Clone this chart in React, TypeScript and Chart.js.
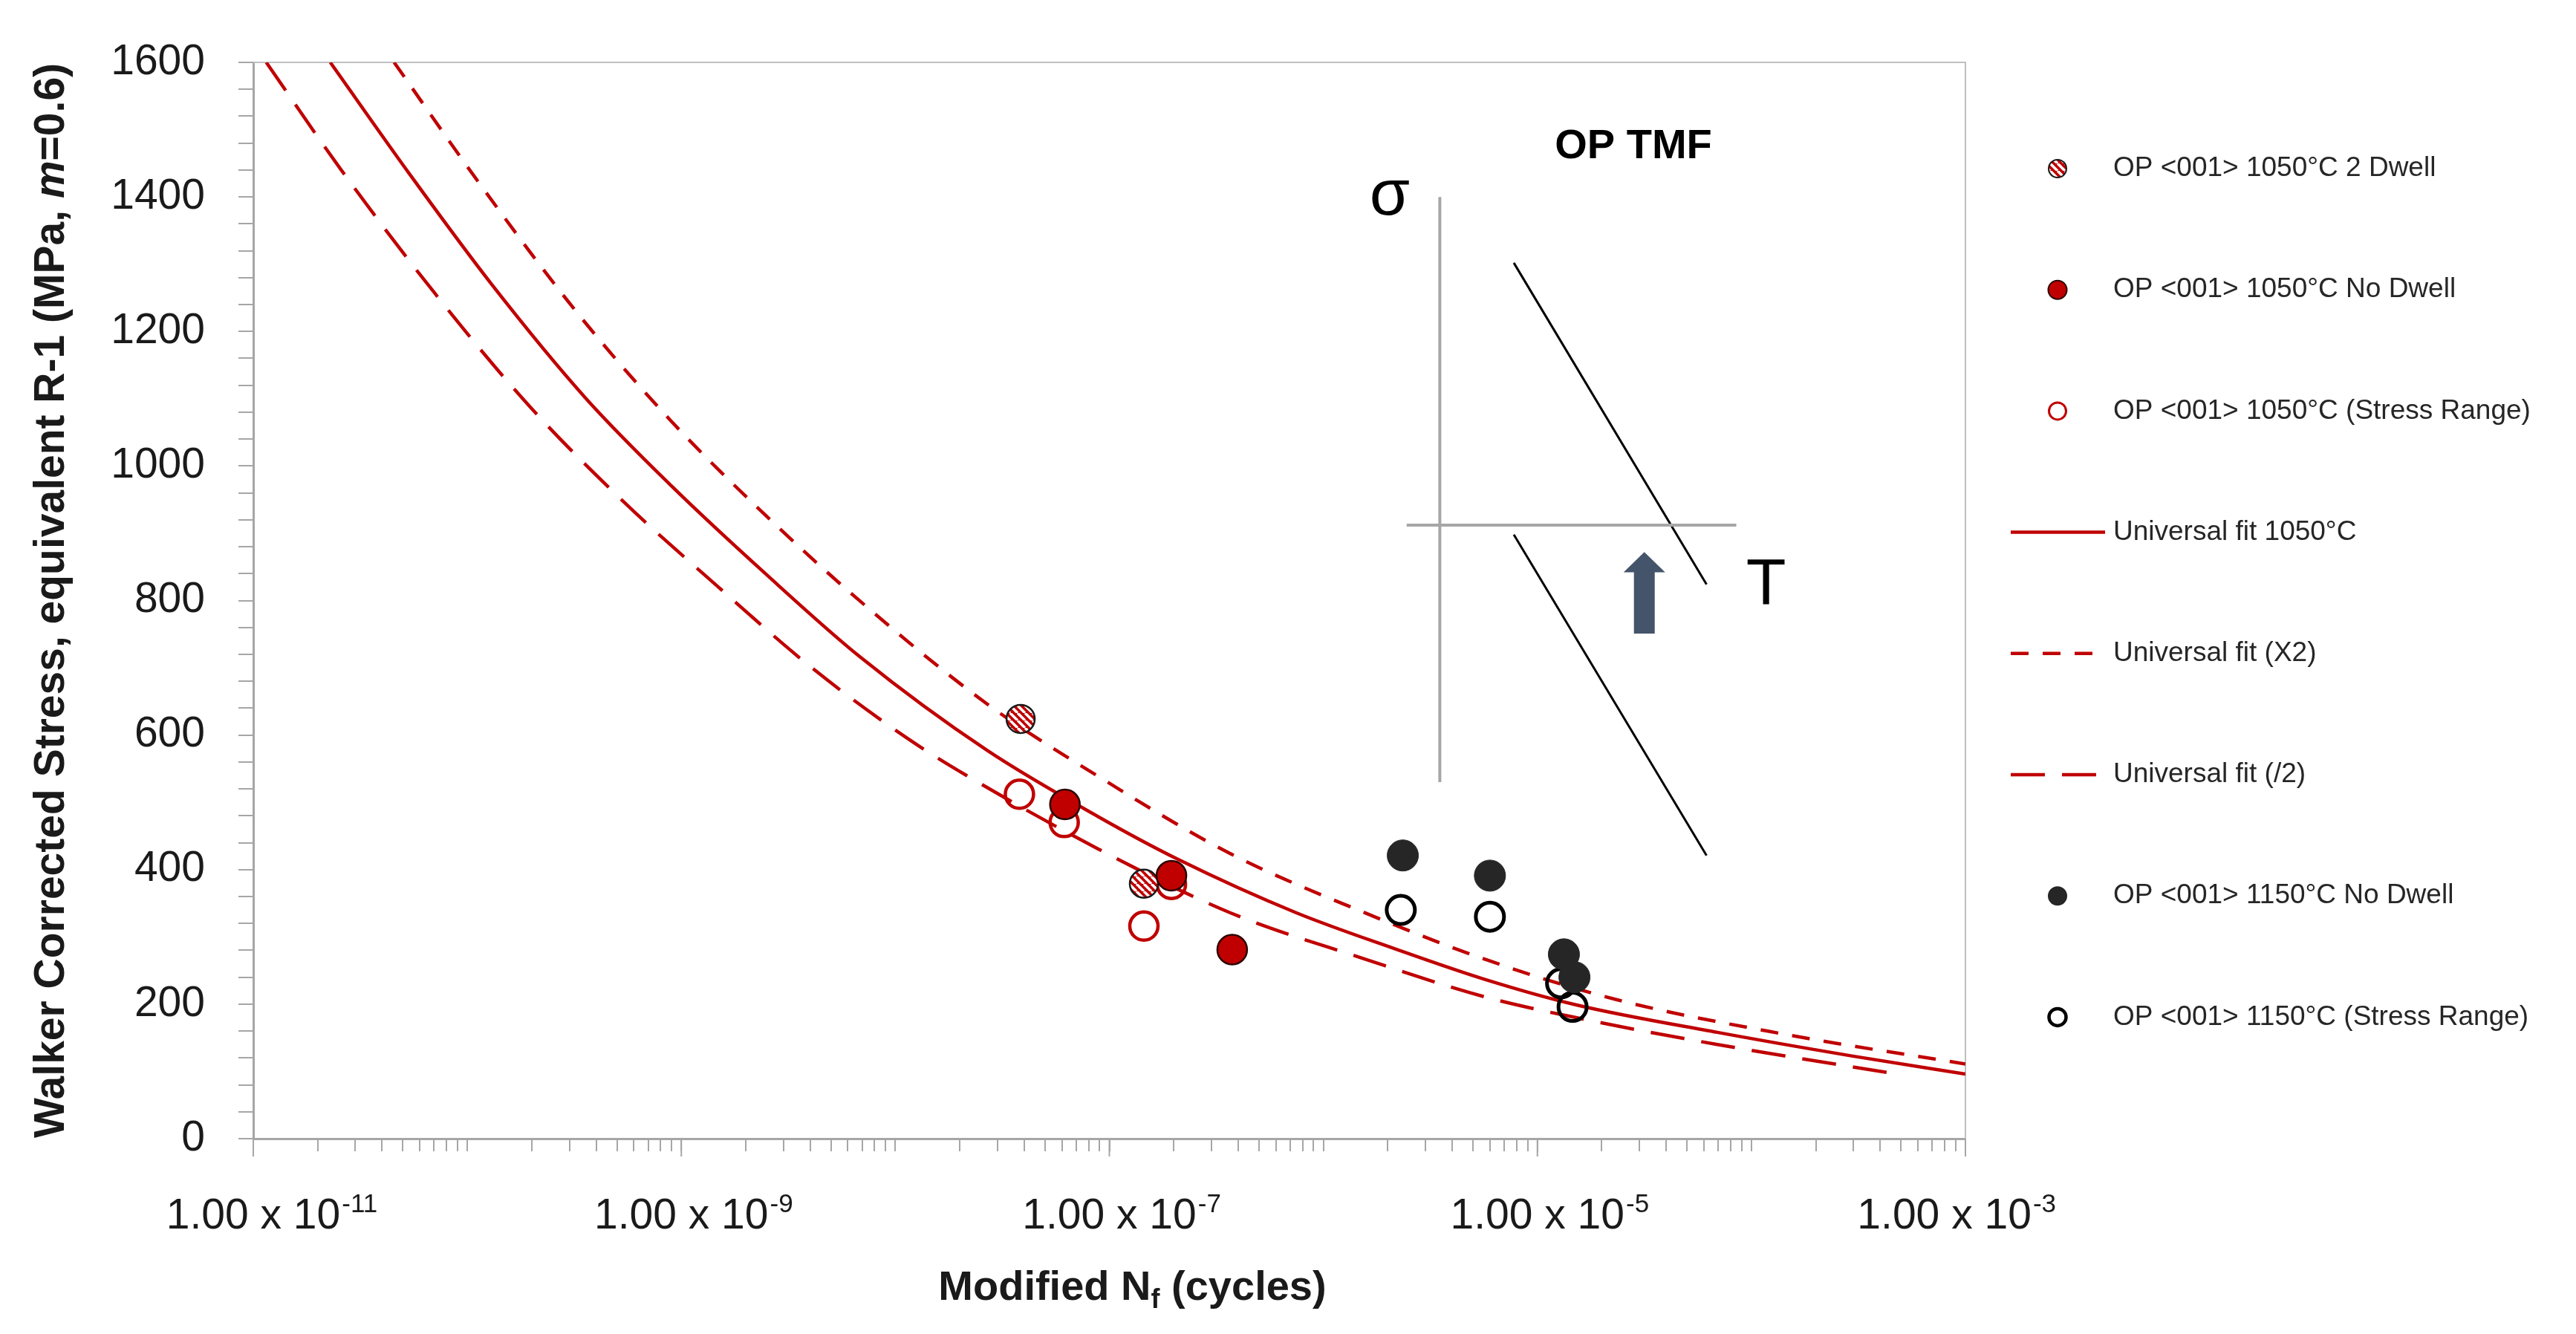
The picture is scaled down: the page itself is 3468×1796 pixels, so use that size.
import { Chart, ScatterController, LineElement, PointElement, LinearScale, LogarithmicScale, Filler } from "chart.js";
import { useEffect, useRef } from "react";

// Filler is what refreshes the bezier control points of curved lines
Chart.register(ScatterController, LineElement, PointElement, LinearScale, LogarithmicScale, Filler);

const W = 3468;
const H = 1796;
const FONT = "'Liberation Sans', Arial, sans-serif";
const RED = "#c00000";
const DARK = "#262626";
const AXIS_GRAY = "#a6a6a6";
const TEXT = "#1a1a1a";

// test points: [modified Nf, Walker corrected stress]
const dwell1050: [number, number][] = [[3.85e-8, 624], [1.45e-7, 379]];
const noDwell1050: [number, number][] = [[6.2e-8, 497], [1.95e-7, 391], [3.75e-7, 281]];
const range1050: [number, number][] = [[3.8e-8, 512], [6.15e-8, 470], [1.45e-7, 316], [1.95e-7, 378]];
const noDwell1150: [number, number][] = [[2.35e-6, 421], [6.0e-6, 391], [1.33e-5, 274], [1.49e-5, 240]];
const range1150: [number, number][] = [[2.3e-6, 340], [6.0e-6, 330], [1.29e-5, 231], [1.46e-5, 196]];

// fit curves
const fit1050: [number, number][] = [
  [2.29e-11, 1600], [5.43e-11, 1432], [1.3e-10, 1270], [3.57e-10, 1101], [8.95e-10, 971],
  [2.49e-9, 839], [6.85e-9, 716], [2.69e-8, 577], [8.83e-8, 479], [2.07e-7, 416],
  [7.45e-7, 336], [2.17e-6, 282], [5.65e-6, 237], [1.51e-5, 199], [6.93e-5, 158],
  [2.94e-4, 123], [1e-3, 96],
];
const fitX2: [number, number][] = [
  [4.55e-11, 1600], [1.17e-10, 1415], [3.22e-10, 1230], [8.95e-10, 1067], [2.49e-9, 926],
  [6.85e-9, 799], [2.69e-8, 646], [8.83e-8, 539], [3.66e-7, 424], [1.53e-6, 337],
  [5.65e-6, 267], [2.32e-5, 207], [1.44e-4, 155], [1e-3, 111],
];
const fitHalf: [number, number][] = [
  [1.15e-11, 1600], [2.55e-11, 1442], [7.0e-11, 1258], [1.95e-10, 1089], [5.37e-10, 947],
  [1.49e-9, 820], [4.11e-9, 699], [1.14e-8, 595], [2.15e-8, 540], [8.83e-8, 431],
  [3.66e-7, 336], [1.53e-6, 268], [5.65e-6, 211], [1.62e-5, 178], [6.93e-5, 140],
  [5.0e-4, 95],
];

// OP TMF sketch (data coordinates)
const sketchSigmaAxis: [number, number][] = [[3.5e-6, 530], [3.5e-6, 1400]];
const sketchTAxis: [number, number][] = [[2.45e-6, 912], [8.5e-5, 912]];
const sketchUpper: [number, number][] = [[7.76e-6, 1302], [6.17e-5, 824]];
const sketchLower: [number, number][] = [[7.76e-6, 898], [6.17e-5, 421]];
const sketchArrow = { x: 3.16e-5, base: 751, neck: 842, tip: 872 };
const sketchTitle = { text: "OP TMF", x: 2.81e-5, y: 1475 };
const sketchSigma = { text: "σ", x: 2.04e-6, y: 1400 };
const sketchT = { text: "T", x: 1.17e-4, y: 822 };

const xMin = 1e-11;
const xMax = 1e-3;
const xLabelValues = [1e-11, 1e-9, 1e-7, 1e-5, 1e-3];
const xLabelBase = "1.00 x 10";
const xLabelExponents = ["-11", "-9", "-7", "-5", "-3"];
const yMin = 0;
const yMax = 1600;
const yLabelStep = 200;
const yMinorStep = 40;

const xTickValues: number[] = [];
for (let e = -11; e < -3; e++) {
  for (let m = 1; m < 10; m++) xTickValues.push(m * Math.pow(10, e));
}
xTickValues.push(xMax);
const yTickValues: number[] = [];
for (let v = yMin; v <= yMax; v += yMinorStep) yTickValues.push(v);

const pts = (a: [number, number][]) => a.map(([x, y]) => ({ x, y }));

function makeHatch(): CanvasPattern | string {
  const c = document.createElement("canvas");
  c.width = 10;
  c.height = 10;
  const g = c.getContext("2d");
  if (!g) return RED;
  g.fillStyle = RED;
  g.fillRect(0, 0, 10, 10);
  g.strokeStyle = "#ffffff";
  g.lineWidth = 3.5;
  g.beginPath();
  for (const o of [-10, 0, 10]) {
    g.moveTo(o, 0);
    g.lineTo(o + 10, 10);
  }
  g.stroke();
  return g.createPattern(c, "repeat") ?? RED;
}

const lineSet = (label: string, data: [number, number][], dash: number[]) => ({
  label,
  data: pts(data),
  showLine: true,
  fill: false,
  borderColor: RED,
  borderWidth: 4.5,
  borderDash: dash,
  pointRadius: 0,
  cubicInterpolationMode: "monotone",
  order: 10,
});

const sketchLine = (data: [number, number][], color: string, width: number) => ({
  data: pts(data),
  showLine: true,
  fill: false,
  borderColor: color,
  borderWidth: width,
  pointRadius: 0,
  order: 20,
});

const decorPlugin = {
  id: "decor",
  beforeDatasetsDraw(chart: any) {
    const { ctx, chartArea: a } = chart;
    ctx.save();
    ctx.strokeStyle = "#bfbfbf";
    ctx.lineWidth = 2;
    ctx.beginPath();
    ctx.moveTo(a.left, a.top);
    ctx.lineTo(a.right, a.top);
    ctx.lineTo(a.right, a.bottom);
    ctx.stroke();
    ctx.restore();
  },
  afterDraw(chart: any) {
    const { ctx, chartArea: a, scales } = chart;
    const xs = scales.x;
    const ys = scales.y;
    ctx.save();

    // longer ticks at labelled decades
    ctx.strokeStyle = AXIS_GRAY;
    ctx.lineWidth = 2;
    for (const v of xLabelValues) {
      const px = xs.getPixelForValue(v);
      ctx.beginPath();
      ctx.moveTo(px, a.bottom);
      ctx.lineTo(px, a.bottom + 24);
      ctx.stroke();
    }

    // x tick labels with superscript exponents
    ctx.fillStyle = TEXT;
    ctx.textAlign = "left";
    ctx.textBaseline = "alphabetic";
    xLabelValues.forEach((v, i) => {
      const sup = xLabelExponents[i];
      ctx.font = `57px ${FONT}`;
      const bw = ctx.measureText(xLabelBase).width;
      ctx.font = `35px ${FONT}`;
      const sw = ctx.measureText(sup).width;
      let left = xs.getPixelForValue(v) - bw / 2;
      const maxRight = a.right + 120;
      if (left + bw + sw > maxRight) left = maxRight - bw - sw;
      ctx.font = `57px ${FONT}`;
      ctx.fillText(xLabelBase, left, a.bottom + 121);
      ctx.font = `35px ${FONT}`;
      ctx.fillText(sup, left + bw + 2, a.bottom + 99);
    });

    // x title
    const xParts = [
      { t: "Modified N", f: `bold 56px ${FONT}`, dy: 0 },
      { t: "f", f: `bold 36px ${FONT}`, dy: 11 },
      { t: " (cycles)", f: `bold 56px ${FONT}`, dy: 0 },
    ];
    let total = 0;
    for (const p of xParts) {
      ctx.font = p.f;
      total += ctx.measureText(p.t).width;
    }
    let cx = (a.left + a.right) / 2 + 31 - total / 2;
    const xBase = chart.height - 46;
    for (const p of xParts) {
      ctx.font = p.f;
      ctx.fillText(p.t, cx, xBase + p.dy);
      cx += ctx.measureText(p.t).width;
    }

    // y title
    const yParts = [
      { t: "Walker Corrected Stress, equivalent R-1 (MPa, ", f: `bold 57px ${FONT}` },
      { t: "m", f: `italic bold 57px ${FONT}` },
      { t: "=0.6)", f: `bold 57px ${FONT}` },
    ];
    total = 0;
    for (const p of yParts) {
      ctx.font = p.f;
      total += ctx.measureText(p.t).width;
    }
    ctx.save();
    ctx.translate(70, (a.top + a.bottom) / 2);
    ctx.rotate(-Math.PI / 2);
    ctx.textBaseline = "middle";
    let ty = -total / 2;
    for (const p of yParts) {
      ctx.font = p.f;
      ctx.fillText(p.t, ty, 0);
      ty += ctx.measureText(p.t).width;
    }
    ctx.restore();

    // sketch texts and arrow
    ctx.textAlign = "center";
    ctx.textBaseline = "middle";
    ctx.fillStyle = "#000000";
    ctx.font = `bold 56px ${FONT}`;
    ctx.fillText(sketchTitle.text, xs.getPixelForValue(sketchTitle.x), ys.getPixelForValue(sketchTitle.y));
    ctx.font = `88px ${FONT}`;
    ctx.fillText(sketchSigma.text, xs.getPixelForValue(sketchSigma.x), ys.getPixelForValue(sketchSigma.y));
    ctx.fillText(sketchT.text, xs.getPixelForValue(sketchT.x), ys.getPixelForValue(sketchT.y));

    const ax = xs.getPixelForValue(sketchArrow.x);
    const yb = ys.getPixelForValue(sketchArrow.base);
    const yn = ys.getPixelForValue(sketchArrow.neck);
    const yt = ys.getPixelForValue(sketchArrow.tip);
    ctx.fillStyle = "#44546a";
    ctx.beginPath();
    ctx.moveTo(ax - 14, yb);
    ctx.lineTo(ax + 14, yb);
    ctx.lineTo(ax + 14, yn);
    ctx.lineTo(ax + 28, yn);
    ctx.lineTo(ax, yt);
    ctx.lineTo(ax - 28, yn);
    ctx.lineTo(ax - 14, yn);
    ctx.closePath();
    ctx.fill();

    // legend
    const rowTop = 227;
    const rowStep = 163.2;
    const markerX = a.right + 124;
    const lineL = a.right + 61;
    const lineR = a.right + 188;
    const textX = a.right + 199;
    let row = 0;
    ctx.textAlign = "left";
    ctx.textBaseline = "middle";
    for (const ds of chart.data.datasets) {
      if (!ds.label) continue;
      const y = rowTop + row * rowStep;
      row++;
      ctx.save();
      if (ds.showLine) {
        ctx.strokeStyle = ds.borderColor;
        ctx.lineWidth = ds.borderWidth;
        ctx.setLineDash(ds.borderDash || []);
        ctx.beginPath();
        ctx.moveTo(lineL, y);
        ctx.lineTo(lineR, y);
        ctx.stroke();
      } else {
        ctx.beginPath();
        ctx.arc(markerX, y, ds.legendRadius, 0, Math.PI * 2);
        ctx.fillStyle = ds.pointBackgroundColor;
        ctx.fill();
        if (ds.legendBorderWidth > 0) {
          ctx.strokeStyle = ds.pointBorderColor;
          ctx.lineWidth = ds.legendBorderWidth;
          ctx.stroke();
        }
      }
      ctx.restore();
      ctx.fillStyle = "#262626";
      ctx.font = `37px ${FONT}`;
      ctx.fillText(ds.label, textX, y);
    }
    ctx.restore();
  },
};

export default function App() {
  const canvasRef = useRef<HTMLCanvasElement>(null);

  useEffect(() => {
    if (!canvasRef.current) return;
    const hatch = makeHatch();

    const chart = new Chart(canvasRef.current, {
      type: "scatter",
      data: {
        datasets: [
          {
            label: "OP <001> 1050°C 2 Dwell",
            data: pts(dwell1050),
            pointRadius: 19,
            pointBackgroundColor: hatch,
            pointBorderColor: "#1a1a1a",
            pointBorderWidth: 2.5,
            legendRadius: 12,
            legendBorderWidth: 2,
            order: 5,
          },
          {
            label: "OP <001> 1050°C No Dwell",
            data: pts(noDwell1050),
            pointRadius: 20,
            pointBackgroundColor: RED,
            pointBorderColor: "#2b0000",
            pointBorderWidth: 2.5,
            legendRadius: 12.5,
            legendBorderWidth: 2,
            order: 4,
          },
          {
            label: "OP <001> 1050°C (Stress Range)",
            data: pts(range1050),
            pointRadius: 19,
            pointBackgroundColor: "rgba(255,255,255,0)",
            pointBorderColor: RED,
            pointBorderWidth: 4.5,
            legendRadius: 11.5,
            legendBorderWidth: 3,
            order: 6,
          },
          lineSet("Universal fit 1050°C", fit1050, []),
          lineSet("Universal fit (X2)", fitX2, [24, 19]),
          lineSet("Universal fit (/2)", fitHalf, [46, 23]),
          {
            label: "OP <001> 1150°C No Dwell",
            data: pts(noDwell1150),
            pointRadius: 21,
            pointBackgroundColor: DARK,
            pointBorderColor: DARK,
            pointBorderWidth: 1,
            legendRadius: 13,
            legendBorderWidth: 0,
            order: 2,
          },
          {
            label: "OP <001> 1150°C (Stress Range)",
            data: pts(range1150),
            pointRadius: 19,
            pointBackgroundColor: "rgba(255,255,255,0)",
            pointBorderColor: "#000000",
            pointBorderWidth: 5,
            legendRadius: 11.5,
            legendBorderWidth: 4.5,
            order: 3,
          },
          sketchLine(sketchSigmaAxis, AXIS_GRAY, 4),
          sketchLine(sketchTAxis, AXIS_GRAY, 4),
          sketchLine(sketchUpper, "#000000", 3),
          sketchLine(sketchLower, "#000000", 3),
        ] as any,
      },
      options: {
        responsive: false,
        animation: false,
        devicePixelRatio: 1,
        events: [],
        layout: { padding: { left: 0, top: 84, right: 822, bottom: 0 } },
        scales: {
          x: {
            type: "logarithmic",
            min: xMin,
            max: xMax,
            afterBuildTicks: (s: any) => {
              s.ticks = xTickValues.map((value) => ({ value }));
            },
            afterFit: (s: any) => {
              s.height = 263;
            },
            ticks: { display: false },
            grid: { drawOnChartArea: false, tickLength: 17, color: AXIS_GRAY, lineWidth: 2 },
            border: { color: AXIS_GRAY, width: 3 },
          },
          y: {
            type: "linear",
            min: yMin,
            max: yMax,
            afterBuildTicks: (s: any) => {
              s.ticks = yTickValues.map((value) => ({ value }));
            },
            afterFit: (s: any) => {
              s.width = 341;
            },
            ticks: {
              autoSkip: false,
              padding: 45,
              color: TEXT,
              font: { family: FONT, size: 57 },
              callback: (v: any) => (Number(v) % yLabelStep === 0 ? String(v) : ""),
            },
            grid: { drawOnChartArea: false, tickLength: 20, color: AXIS_GRAY, lineWidth: 2 },
            border: { color: AXIS_GRAY, width: 3 },
          },
        },
      } as any,
      plugins: [decorPlugin],
    });

    return () => chart.destroy();
  }, []);

  return (
    <div style={{ position: "fixed", left: 0, top: 0, width: W, height: H, background: "#ffffff" }}>
      <canvas ref={canvasRef} width={W} height={H} style={{ width: W, height: H, display: "block" }} />
    </div>
  );
}
